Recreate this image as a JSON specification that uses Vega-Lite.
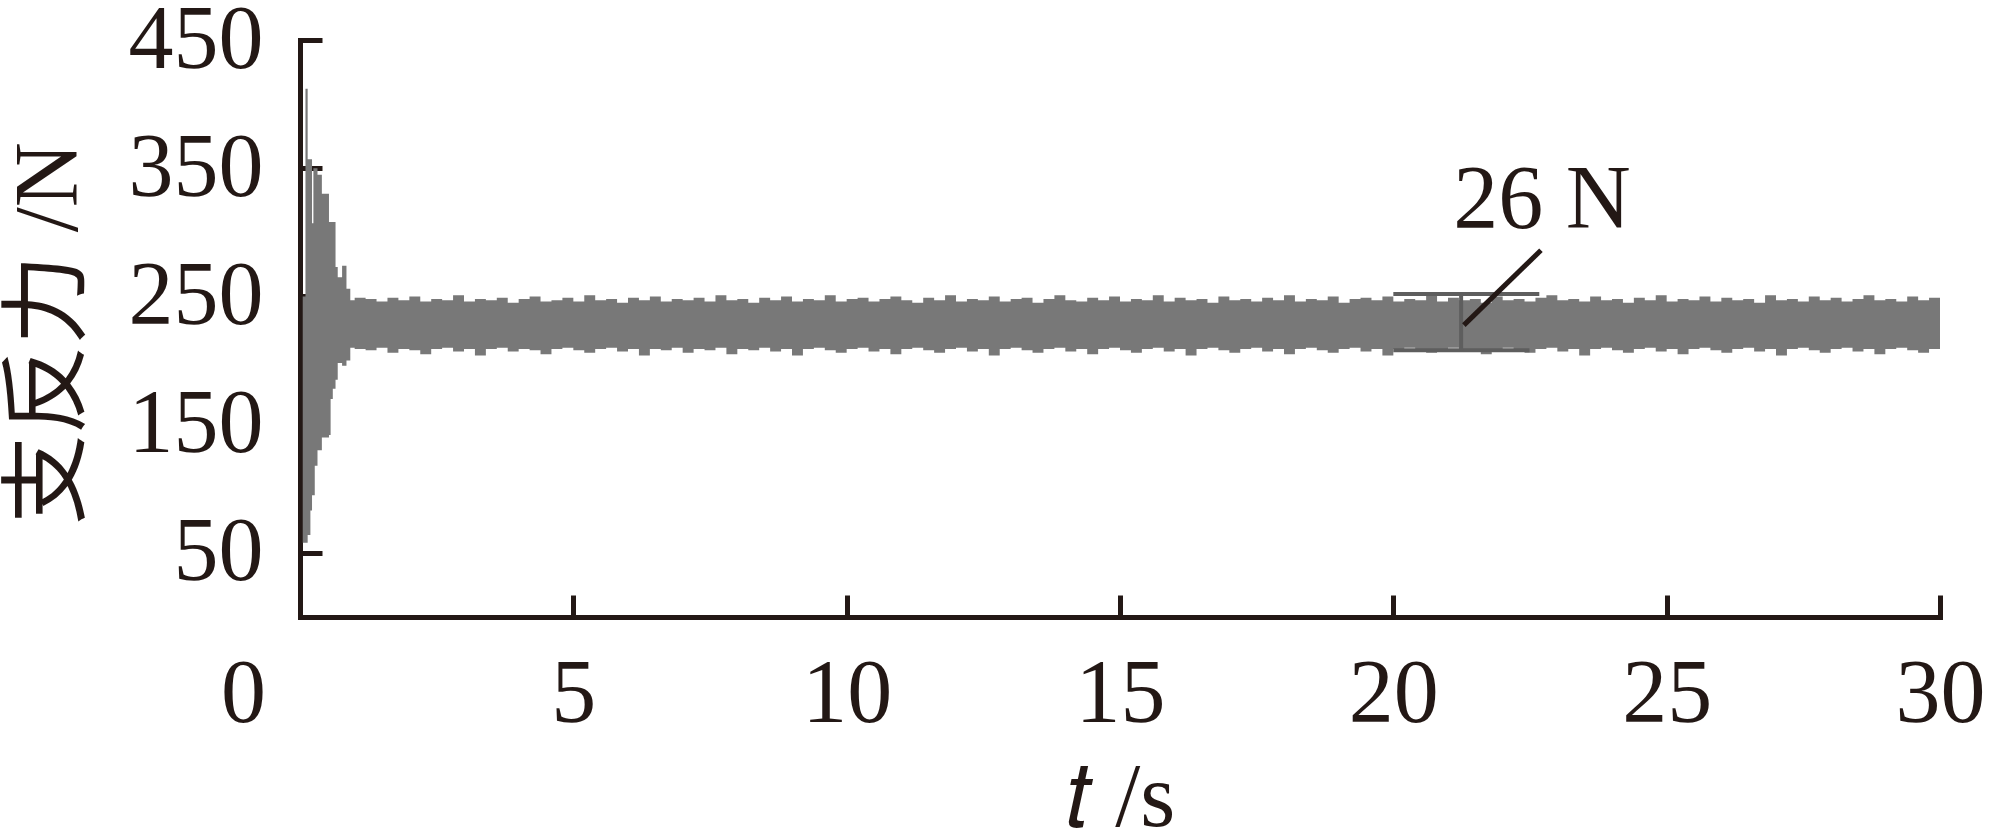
{
  "$schema": "https://vega.github.io/schema/vega-lite/v6.json",
  "autosize": {"type": "none"},
  "width": 1640,
  "height": 577,
  "padding": {"left": 300, "top": 40, "right": 50, "bottom": 219},
  "background": "white",
  "config": {"view": {"stroke": null}},
  "datasets": {
    "signal": [
      {"t": 0.05, "hi": 250, "lo": 58},
      {"t": 0.10, "hi": 412, "lo": 58},
      {"t": 0.14, "hi": 357, "lo": 64},
      {"t": 0.19, "hi": 357, "lo": 83},
      {"t": 0.22, "hi": 307, "lo": 95},
      {"t": 0.245, "hi": 350, "lo": 95},
      {"t": 0.27, "hi": 350, "lo": 118},
      {"t": 0.32, "hi": 345, "lo": 130},
      {"t": 0.40, "hi": 330, "lo": 140},
      {"t": 0.53, "hi": 308, "lo": 142},
      {"t": 0.56, "hi": 308, "lo": 170},
      {"t": 0.60, "hi": 308, "lo": 178},
      {"t": 0.65, "hi": 273, "lo": 185},
      {"t": 0.69, "hi": 265, "lo": 198},
      {"t": 0.77, "hi": 274, "lo": 196},
      {"t": 0.85, "hi": 256, "lo": 200},
      {"t": 0.92, "hi": 247, "lo": 210},
      {"t": 1.0, "hi": 249, "lo": 209},
      {"t": 1.2, "hi": 248, "lo": 208},
      {"t": 1.4, "hi": 246, "lo": 210},
      {"t": 1.6, "hi": 249, "lo": 206},
      {"t": 1.8, "hi": 247, "lo": 209},
      {"t": 2.0, "hi": 250, "lo": 208},
      {"t": 2.2, "hi": 246, "lo": 205},
      {"t": 2.4, "hi": 248, "lo": 209},
      {"t": 2.6, "hi": 247, "lo": 210},
      {"t": 2.8, "hi": 251, "lo": 207},
      {"t": 3.0, "hi": 246, "lo": 209},
      {"t": 3.2, "hi": 248, "lo": 204},
      {"t": 3.4, "hi": 247, "lo": 209},
      {"t": 3.6, "hi": 249, "lo": 210},
      {"t": 3.8, "hi": 245, "lo": 207},
      {"t": 4.0, "hi": 248, "lo": 209},
      {"t": 4.2, "hi": 250, "lo": 208},
      {"t": 4.4, "hi": 246, "lo": 205},
      {"t": 4.6, "hi": 247, "lo": 209},
      {"t": 4.8, "hi": 249, "lo": 210},
      {"t": 5.0, "hi": 246, "lo": 208},
      {"t": 5.2, "hi": 251, "lo": 206},
      {"t": 5.4, "hi": 247, "lo": 209},
      {"t": 5.6, "hi": 248, "lo": 210},
      {"t": 5.8, "hi": 245, "lo": 207},
      {"t": 6.0, "hi": 249, "lo": 209},
      {"t": 6.2, "hi": 247, "lo": 204},
      {"t": 6.4, "hi": 250, "lo": 209},
      {"t": 6.6, "hi": 246, "lo": 208},
      {"t": 6.8, "hi": 248, "lo": 210},
      {"t": 7.0, "hi": 247, "lo": 206},
      {"t": 7.2, "hi": 249, "lo": 209},
      {"t": 7.4, "hi": 246, "lo": 208},
      {"t": 7.6, "hi": 251, "lo": 210},
      {"t": 7.8, "hi": 247, "lo": 205},
      {"t": 8.0, "hi": 248, "lo": 209},
      {"t": 8.2, "hi": 245, "lo": 208},
      {"t": 8.4, "hi": 249, "lo": 210},
      {"t": 8.6, "hi": 247, "lo": 207},
      {"t": 8.8, "hi": 250, "lo": 209},
      {"t": 9.0, "hi": 246, "lo": 204},
      {"t": 9.2, "hi": 248, "lo": 209},
      {"t": 9.4, "hi": 247, "lo": 210},
      {"t": 9.6, "hi": 251, "lo": 208},
      {"t": 9.8, "hi": 246, "lo": 206},
      {"t": 10.0, "hi": 248, "lo": 209},
      {"t": 10.2, "hi": 249, "lo": 210},
      {"t": 10.4, "hi": 246, "lo": 207},
      {"t": 10.6, "hi": 248, "lo": 209},
      {"t": 10.8, "hi": 250, "lo": 205},
      {"t": 11.0, "hi": 247, "lo": 209},
      {"t": 11.2, "hi": 245, "lo": 210},
      {"t": 11.4, "hi": 249, "lo": 208},
      {"t": 11.6, "hi": 247, "lo": 206},
      {"t": 11.8, "hi": 251, "lo": 209},
      {"t": 12.0, "hi": 246, "lo": 210},
      {"t": 12.2, "hi": 248, "lo": 207},
      {"t": 12.4, "hi": 247, "lo": 209},
      {"t": 12.6, "hi": 250, "lo": 204},
      {"t": 12.8, "hi": 246, "lo": 209},
      {"t": 13.0, "hi": 248, "lo": 210},
      {"t": 13.2, "hi": 249, "lo": 208},
      {"t": 13.4, "hi": 245, "lo": 206},
      {"t": 13.6, "hi": 248, "lo": 209},
      {"t": 13.8, "hi": 251, "lo": 210},
      {"t": 14.0, "hi": 247, "lo": 207},
      {"t": 14.2, "hi": 246, "lo": 209},
      {"t": 14.4, "hi": 249, "lo": 205},
      {"t": 14.6, "hi": 247, "lo": 209},
      {"t": 14.8, "hi": 250, "lo": 210},
      {"t": 15.0, "hi": 246, "lo": 208},
      {"t": 15.2, "hi": 248, "lo": 206},
      {"t": 15.4, "hi": 247, "lo": 209},
      {"t": 15.6, "hi": 251, "lo": 210},
      {"t": 15.8, "hi": 246, "lo": 207},
      {"t": 16.0, "hi": 249, "lo": 209},
      {"t": 16.2, "hi": 247, "lo": 204},
      {"t": 16.4, "hi": 248, "lo": 209},
      {"t": 16.6, "hi": 245, "lo": 210},
      {"t": 16.8, "hi": 250, "lo": 208},
      {"t": 17.0, "hi": 247, "lo": 206},
      {"t": 17.2, "hi": 248, "lo": 209},
      {"t": 17.4, "hi": 246, "lo": 210},
      {"t": 17.6, "hi": 249, "lo": 207},
      {"t": 17.8, "hi": 247, "lo": 209},
      {"t": 18.0, "hi": 251, "lo": 205},
      {"t": 18.2, "hi": 246, "lo": 209},
      {"t": 18.4, "hi": 248, "lo": 210},
      {"t": 18.6, "hi": 247, "lo": 208},
      {"t": 18.8, "hi": 250, "lo": 206},
      {"t": 19.0, "hi": 245, "lo": 209},
      {"t": 19.2, "hi": 248, "lo": 210},
      {"t": 19.4, "hi": 249, "lo": 207},
      {"t": 19.6, "hi": 247, "lo": 209},
      {"t": 19.8, "hi": 250, "lo": 204},
      {"t": 20.0, "hi": 246, "lo": 209},
      {"t": 20.2, "hi": 248, "lo": 210},
      {"t": 20.4, "hi": 247, "lo": 208},
      {"t": 20.6, "hi": 251, "lo": 206},
      {"t": 20.8, "hi": 246, "lo": 209},
      {"t": 21.0, "hi": 249, "lo": 210},
      {"t": 21.2, "hi": 247, "lo": 207},
      {"t": 21.4, "hi": 248, "lo": 209},
      {"t": 21.6, "hi": 245, "lo": 205},
      {"t": 21.8, "hi": 250, "lo": 209},
      {"t": 22.0, "hi": 247, "lo": 210},
      {"t": 22.2, "hi": 248, "lo": 208},
      {"t": 22.4, "hi": 246, "lo": 206},
      {"t": 22.6, "hi": 249, "lo": 209},
      {"t": 22.8, "hi": 251, "lo": 210},
      {"t": 23.0, "hi": 247, "lo": 207},
      {"t": 23.2, "hi": 248, "lo": 209},
      {"t": 23.4, "hi": 246, "lo": 204},
      {"t": 23.6, "hi": 250, "lo": 209},
      {"t": 23.8, "hi": 247, "lo": 210},
      {"t": 24.0, "hi": 248, "lo": 208},
      {"t": 24.2, "hi": 245, "lo": 206},
      {"t": 24.4, "hi": 249, "lo": 209},
      {"t": 24.6, "hi": 247, "lo": 210},
      {"t": 24.8, "hi": 251, "lo": 207},
      {"t": 25.0, "hi": 246, "lo": 209},
      {"t": 25.2, "hi": 248, "lo": 205},
      {"t": 25.4, "hi": 247, "lo": 209},
      {"t": 25.6, "hi": 250, "lo": 210},
      {"t": 25.8, "hi": 246, "lo": 208},
      {"t": 26.0, "hi": 249, "lo": 206},
      {"t": 26.2, "hi": 247, "lo": 209},
      {"t": 26.4, "hi": 248, "lo": 210},
      {"t": 26.6, "hi": 245, "lo": 207},
      {"t": 26.8, "hi": 251, "lo": 209},
      {"t": 27.0, "hi": 247, "lo": 204},
      {"t": 27.2, "hi": 248, "lo": 209},
      {"t": 27.4, "hi": 246, "lo": 210},
      {"t": 27.6, "hi": 250, "lo": 208},
      {"t": 27.8, "hi": 247, "lo": 206},
      {"t": 28.0, "hi": 249, "lo": 209},
      {"t": 28.2, "hi": 246, "lo": 210},
      {"t": 28.4, "hi": 248, "lo": 207},
      {"t": 28.6, "hi": 251, "lo": 209},
      {"t": 28.8, "hi": 247, "lo": 205},
      {"t": 29.0, "hi": 248, "lo": 209},
      {"t": 29.2, "hi": 246, "lo": 210},
      {"t": 29.4, "hi": 250, "lo": 208},
      {"t": 29.6, "hi": 247, "lo": 206},
      {"t": 29.8, "hi": 249, "lo": 209},
      {"t": 30.0, "hi": 247, "lo": 207}
    ],
    "ibar": [
      {"x1": 20.0, "x2": 22.67, "y1": 252, "y2": 252},
      {"x1": 20.0, "x2": 22.49, "y1": 208, "y2": 208},
      {"x1": 21.24, "x2": 21.24, "y1": 208, "y2": 252}
    ],
    "leader": [
      {"x1": 21.29, "x2": 22.70, "y1": 227.6, "y2": 286}
    ],
    "label": [
      {"x": 22.72, "y": 303, "text": "26 N"}
    ]
  },
  "layer": [
    {
      "data": {"name": "signal"},
      "mark": {"type": "area", "interpolate": "step-after", "color": "#787878"},
      "encoding": {
        "x": {
          "field": "t", "type": "quantitative",
          "scale": {"domain": [0, 30], "nice": false, "zero": false},
          "axis": {
            "values": [0, 5, 10, 15, 20, 25, 30],
            "grid": false,
            "tickSize": -22, "tickWidth": 5, "tickColor": "#231815",
            "domainWidth": 5, "domainColor": "#231815", "domainCap": "square",
            "labelFont": "Liberation Serif", "labelFontSize": 90, "labelColor": "#231815",
            "labelPadding": 55, "labelFlush": false, "labelOverlap": false, "labelBound": false,
            "labelOffset": {"condition": {"test": "datum.value === 0", "value": -57}, "value": 0},
            "title": "𝑡 /s",
            "titleFont": "Liberation Serif", "titleFontSize": 90, "titleFontWeight": "normal", "titleColor": "#231815",
            "titleY": 208, "titleBaseline": "alphabetic"
          }
        },
        "y": {
          "field": "hi", "type": "quantitative",
          "scale": {"domain": [0, 450], "nice": false},
          "axis": {
            "values": [50, 150, 250, 350, 450],
            "grid": false,
            "tickSize": -22, "tickWidth": 5, "tickColor": "#231815",
            "domainWidth": 5, "domainColor": "#231815", "domainCap": "square",
            "labelFont": "Liberation Serif", "labelFontSize": 90, "labelColor": "#231815",
            "labelPadding": 59, "labelOverlap": false, "labelBound": false, "labelFlush": false,
            "title": "支反力 /N",
            "titleFont": "Liberation Serif, Noto Sans CJK SC", "titleFontSize": 90, "titleFontWeight": "normal", "titleColor": "#231815",
            "titleAngle": 270, "titleX": -224, "titleY": 293, "titleBaseline": "alphabetic", "titleAlign": "center"
          }
        },
        "y2": {"field": "lo"}
      }
    },
    {
      "data": {"name": "ibar"},
      "mark": {"type": "rule", "color": "#5e5e5e", "strokeWidth": 4},
      "encoding": {
        "x": {"field": "x1", "type": "quantitative"},
        "x2": {"field": "x2"},
        "y": {"field": "y1", "type": "quantitative"},
        "y2": {"field": "y2"}
      }
    },
    {
      "data": {"name": "leader"},
      "mark": {"type": "rule", "color": "#231815", "strokeWidth": 5},
      "encoding": {
        "x": {"field": "x1", "type": "quantitative"},
        "x2": {"field": "x2"},
        "y": {"field": "y1", "type": "quantitative"},
        "y2": {"field": "y2"}
      }
    },
    {
      "data": {"name": "label"},
      "mark": {"type": "text", "font": "Liberation Serif", "fontSize": 90, "color": "#231815", "align": "center", "baseline": "alphabetic"},
      "encoding": {
        "x": {"field": "x", "type": "quantitative"},
        "y": {"field": "y", "type": "quantitative"},
        "text": {"field": "text"}
      }
    }
  ]
}
